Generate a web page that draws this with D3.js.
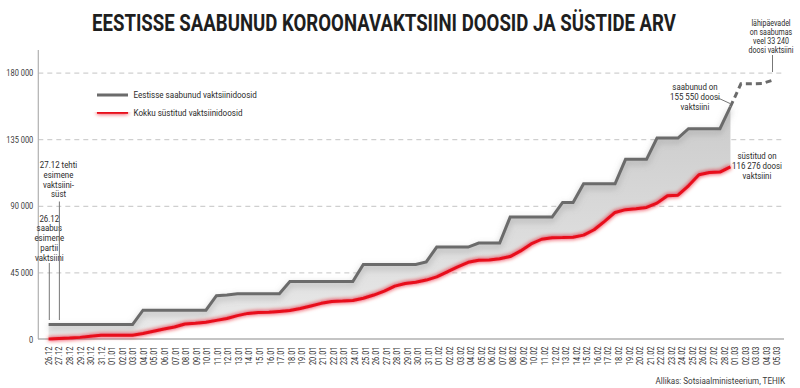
<!DOCTYPE html>
<html>
<head>
  <meta charset="utf-8">
  <title>Koroonavaktsiinid</title>
  <style>
    body { margin: 0; background: #fff; }
    svg text { font-family: Roboto, "Noto Sans", sans-serif; }
  </style>
</head>
<body>
  <div id="chart"></div>
  <script src="https://cdn.jsdelivr.net/npm/d3@7"></script>
  <script>
    // kuupäevad (x-telje sildid)
    let dates = ['26.12','27.12','28.12','29.12','30.12','31.12',
      '01.01','02.01','03.01','04.01','05.01','06.01','07.01','08.01','09.01','10.01',
      '11.01','12.01','13.01','14.01','15.01','16.01','17.01','18.01','19.01','20.01',
      '21.01','22.01','23.01','24.01','25.01','26.01','27.01','28.01','29.01','30.01','31.01',
      '01.02','02.02','03.02','04.02','05.02','06.02','07.02','08.02','09.02','10.02',
      '11.02','12.02','13.02','14.02','15.02','16.02','17.02','18.02','19.02','20.02',
      '21.02','22.02','23.02','24.02','25.02','26.02','27.02','28.02',
      '01.03','02.03','03.03','04.03','05.03'];

    // Eestisse saabunud vaktsiinidoosid (26.12 - 01.03)
    let arrived = [9750, 9750, 9750, 9750, 9750, 9750, 9750, 9750, 9750,
      19500, 19500, 19500, 19500, 19500, 19500, 19500,
      29300, 29800,
      30650, 30650, 30650, 30650, 30650,
      38800, 38800, 38800, 38800, 38800, 38800, 38800,
      50300, 50300, 50300, 50300, 50300, 50300,
      52100,
      62100, 62100, 62100, 62100,
      64800, 64800, 64800,
      82350, 82350, 82350, 82350, 82350,
      92230, 92230,
      104900, 104900, 104900, 104900,
      121400, 121400, 121400,
      135800, 135800, 135800,
      142100, 142100, 142100, 142100,
      157000];

    // lähipäevadel saabumas (01.03 - 05.03), katkendjoon
    let expected = [157000, 172400, 172400, 172600, 174800];

    // kokku süstitud vaktsiinidoosid (26.12 - 01.03)
    let injected = [0, 300, 600, 1100, 1900, 2500, 2500, 2500, 2600, 3700,
      5200, 6800, 8100, 10100, 10600, 11300, 12600, 13900, 15800, 17300,
      17900, 18100, 18600, 19200, 20600, 22300, 24100, 25400, 25600, 26000,
      27500, 29700, 32400, 35700, 37500, 38400, 39800, 42000, 45400, 48800,
      51800, 53200, 53400, 54200, 55700, 59500, 64200, 67400, 68400, 68500,
      68800, 70200, 73800, 79500, 85500, 87400, 88000, 88900, 91800, 96800,
      97200, 103500, 111000, 112500, 112800, 116276];

    let yTicks = [0, 45000, 90000, 135000, 180000];

    function translate(x, y) {
      return 'translate(' + x + ',' + y + ')';
    }

    // kitsendab teksti (kitsast kirjatüüpi pole saada)
    function condense(sel, k) {
      sel.each(function () {
        let len = this.getComputedTextLength();
        d3.select(this)
          .attr('textLength', len * k)
          .attr('lengthAdjust', 'spacingAndGlyphs');
      });
    }

    let svgWidth = 800;
    let svgHeight = 388;

    let svg = d3.select('#chart')
      .append('svg')
        .attr('width', svgWidth)
        .attr('height', svgHeight);

    let defs = svg.append('defs');

    // punase joone kuma
    let glow = defs.append('filter').attr('id', 'glow')
      .attr('filterUnits', 'userSpaceOnUse')
      .attr('x', 0).attr('y', 0).attr('width', 800).attr('height', 388);
    glow.append('feGaussianBlur').attr('in', 'SourceGraphic').attr('stdDeviation', 2.2).attr('result', 'b');
    let gm = glow.append('feMerge');
    gm.append('feMergeNode').attr('in', 'b');
    gm.append('feMergeNode').attr('in', 'SourceGraphic');

    // halli joone vari
    let shadow = defs.append('filter').attr('id', 'shadow')
      .attr('filterUnits', 'userSpaceOnUse')
      .attr('x', 0).attr('y', 0).attr('width', 800).attr('height', 388);
    shadow.append('feGaussianBlur').attr('in', 'SourceGraphic').attr('stdDeviation', 3);

    let grad = defs.append('linearGradient').attr('id', 'fillGrad')
      .attr('gradientUnits', 'userSpaceOnUse')
      .attr('x1', 0).attr('x2', 0).attr('y1', 100).attr('y2', 339);
    grad.append('stop').attr('offset', 0).attr('stop-color', '#cacaca');
    grad.append('stop').attr('offset', 1).attr('stop-color', '#eaeaea');

    // skaalad
    let x = d3.scalePoint().domain(dates).range([48.6, 772.4]);      // andmepunktid
    let xLab = d3.scalePoint().domain(dates).range([48.3, 776.7]);   // telje sildid
    let y = d3.scaleLinear().domain([0, 180000]).range([339, 72.6]);

    let fmt = d3.formatLocale({ decimal: ',', thousands: ' ', grouping: [3], currency: ['', ''] }).format(',');

    // Y-telg + ruudustik
    let yAxis = svg.append('g')
      .attr('transform', translate(38.3, 0))
      .call(d3.axisLeft(y).tickValues(yTicks).tickSize(-747).tickPadding(5).tickFormat(fmt));
    yAxis.select('.domain').remove();
    yAxis.selectAll('.tick line')
      .attr('stroke', '#c4c4c4')
      .attr('stroke-dasharray', '5,4')
      .filter(d => d === 0).remove();
    yAxis.selectAll('.tick text')
      .style('font-family', 'Roboto, sans-serif')
      .style('font-size', '9.8px')
      .attr('fill', '#3a3a3a')
      .call(condense, 0.76);

    // telgede jooned
    svg.append('line')
      .attr('x1', 38.3).attr('x2', 38.3).attr('y1', 50).attr('y2', 339)
      .attr('stroke', '#b0b0b0').attr('stroke-width', 1.2);

    // X-telg
    let xAxis = svg.append('g')
      .attr('transform', translate(0, 339))
      .call(d3.axisBottom(xLab).tickSize(0));
    xAxis.select('.domain')
      .attr('d', 'M38,0H784')
      .attr('stroke', '#b0b0b0').attr('stroke-width', 1.5);
    xAxis.selectAll('.tick text')
      .attr('transform', 'rotate(-90)')
      .attr('x', -7.5)
      .attr('y', 0)
      .attr('dy', '0.35em')
      .style('text-anchor', 'end')
      .style('font-family', 'Roboto, sans-serif')
      .style('font-size', '8.8px')
      .attr('fill', '#333')
      .call(condense, 0.84);

    // ala kahe joone vahel
    let solidDates = dates.slice(0, arrived.length);
    let area = d3.area()
      .x((d, i) => x(solidDates[i]))
      .y0((d, i) => y(injected[i]))
      .y1((d, i) => y(arrived[i]));
    svg.append('path')
      .datum(arrived)
      .attr('d', area)
      .attr('fill', 'url(#fillGrad)');

    let line = d3.line()
      .x(d => x(d.date))
      .y(d => y(d.value));

    let arrivedData = arrived.map((v, i) => ({ date: dates[i], value: v }));
    let injectedData = injected.map((v, i) => ({ date: dates[i], value: v }));
    let expectedData = expected.map((v, i) => ({ date: dates[arrived.length - 1 + i], value: v }));

    // vari halli joone all
    svg.append('path')
      .datum(arrivedData)
      .attr('d', line)
      .attr('transform', translate(0, 3))
      .attr('fill', 'none')
      .attr('stroke', '#888')
      .attr('stroke-opacity', 0.45)
      .attr('stroke-width', 4)
      .attr('filter', 'url(#shadow)');

    // saabunud doosid
    svg.append('path')
      .datum(arrivedData)
      .attr('d', line)
      .attr('fill', 'none')
      .attr('stroke', '#6b6b6b')
      .attr('stroke-width', 3);

    svg.append('path')
      .datum(expectedData)
      .attr('d', line)
      .attr('fill', 'none')
      .attr('stroke', '#6b6b6b')
      .attr('stroke-width', 3)
      .attr('stroke-dasharray', '6,4');

    // süstitud doosid
    svg.append('path')
      .datum(injectedData)
      .attr('d', line)
      .attr('fill', 'none')
      .attr('stroke', '#e8101a')
      .attr('stroke-width', 3)
      .attr('stroke-linejoin', 'round')
      .attr('filter', 'url(#glow)');

    // pealkiri
    svg.append('text')
      .attr('x', 92)
      .attr('y', 31)
      .attr('textLength', 584)
      .attr('lengthAdjust', 'spacingAndGlyphs')
      .style('font-size', '23px')
      .style('font-weight', 'bold')
      .attr('fill', '#1e1e1e')
      .text('EESTISSE SAABUNUD KOROONAVAKTSIINI DOOSID JA SÜSTIDE ARV');

    // legend
    let legendItems = [
      { label: 'Eestisse saabunud vaktsiinidoosid', color: '#6b6b6b', y: 95 },
      { label: 'Kokku süstitud vaktsiinidoosid', color: '#e8101a', y: 112.3 }
    ];
    let legend = svg.selectAll('.legend')
      .data(legendItems)
      .enter()
      .append('g')
        .attr('class', 'legend')
        .attr('transform', d => translate(0, d.y));
    legend.append('rect')
      .attr('x', 97).attr('y', -1.5)
      .attr('width', 31).attr('height', 3)
      .attr('fill', d => d.color)
      .attr('filter', d => d.color === '#e8101a' ? 'url(#glow)' : null);
    legend.append('text')
      .attr('x', 133.5)
      .attr('dy', '0.35em')
      .style('font-size', '9.6px')
      .attr('fill', '#2a2a2a')
      .text(d => d.label)
      .call(condense, 0.84);

    // märkused
    function note(lines, cx, y0, lh, fs) {
      lines.forEach((s, i) => {
        svg.append('text')
          .attr('x', cx)
          .attr('y', y0 + i * lh)
          .attr('text-anchor', 'middle')
          .style('font-size', (fs || 9.4) + 'px')
          .attr('fill', '#2a2a2a')
          .text(s)
          .call(condense, 0.84);
      });
    }

    function leader(x1, y1, x2, y2) {
      svg.append('line')
        .attr('x1', x1).attr('y1', y1).attr('x2', x2).attr('y2', y2)
        .attr('stroke', '#777').attr('stroke-width', 1);
    }

    note(['27.12 tehti', 'esimene', 'vaktsiini-', 'süst'], 58.5, 168.3, 9.7);
    note(['26.12', 'saabus', 'esimene', 'partii', 'vaktsiini'], 49.3, 221.5, 9.75);
    leader(x('26.12') + 0.7, 263, x('26.12') + 0.7, 320);
    leader(x('27.12') + 0.3, 201.5, x('27.12') + 0.3, 320);

    note(['lähipäevadel', 'on saabumas', 'veel 33 240', 'doosi vaktsiini'], 771, 25.5, 9.2, 8.4);
    leader(772.5, 55, 772.5, 72);

    note(['saabunud on', '155 550 doosi', 'vaktsiini'], 695, 89.5, 10.3);
    leader(717, 97.5, 730, 103.5);

    note(['süstitud on', '116 276 doosi', 'vaktsiini'], 757, 158.5, 10.4);

    // allikas
    svg.append('text')
      .attr('x', 785)
      .attr('y', 384)
      .attr('text-anchor', 'end')
      .style('font-size', '9.4px')
      .attr('fill', '#3a3a3a')
      .text('Allikas: Sotsiaalministeerium, TEHIK')
      .call(condense, 0.86);
  </script>
</body>
</html>
